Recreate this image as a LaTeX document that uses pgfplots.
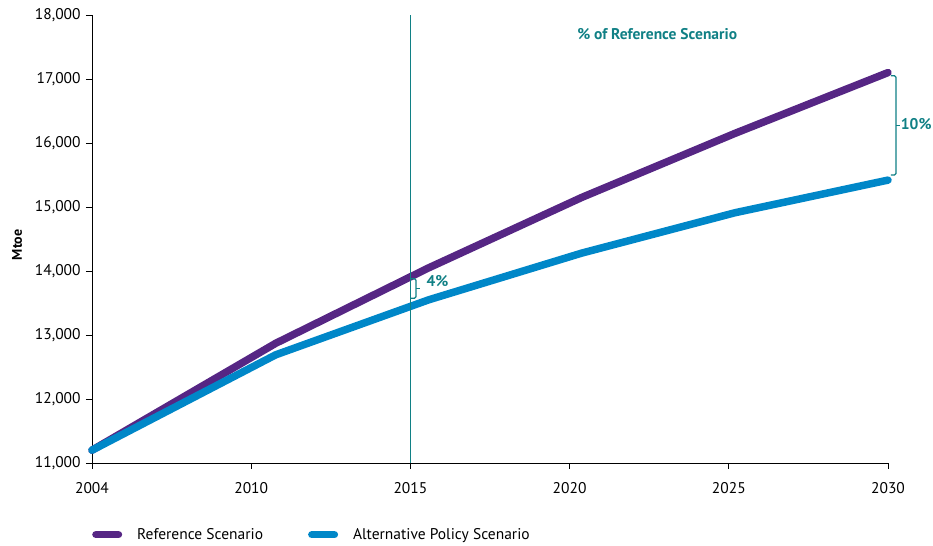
\documentclass[border=0pt]{standalone}
\usepackage{fontspec}
\setmainfont{PT Sans}
\usepackage{pgfplots}
\pgfplotsset{compat=1.18}
\definecolor{refpurple}{RGB}{86,38,132}
\definecolor{altblue}{RGB}{0,135,200}
\definecolor{annteal}{RGB}{16,128,133}
\newcommand{\fs}{\fontsize{15.5}{18}\selectfont}
\begin{document}
\fs
\begin{tikzpicture}
\begin{axis}[
  at={(0,0)}, anchor=south west,
  scale only axis,
  width=796pt, height=448pt,
  xmin=0, xmax=5, ymin=11000, ymax=18000,
  axis lines=left,
  axis line style={-, line width=0.9pt},
  tick align=outside,
  major tick length=6pt,
  tick style={black, line width=0.9pt},
  xtick={0,1,2,3,4,5},
  xticklabels={2004,2010,2015,2020,2025,2030},
  ytick={11000,12000,13000,14000,15000,16000,17000,18000},
  scaled y ticks=false,
  /pgf/number format/.cd, 1000 sep={,}, assume math mode=true,
  /pgfplots/.cd,
  ticklabel style={font=\fs, black},
  xticklabel style={yshift=-8pt},
  ylabel={Mtoe},
  every axis y label/.style={at={(axis description cs:-0.094,0.487)}, rotate=90, anchor=center, font=\fontsize{14}{16}\selectfont\bfseries},
  clip=false,
  legend columns=2,
  legend style={draw=none, fill=none, at={(axis description cs:0,-0.16)}, anchor=west, inner xsep=0pt, font=\fs},
  legend cell align=left,
  /tikz/every even column/.append style={column sep=43pt},
  legend image code/.code={\draw[#1, line width=7.5pt, line cap=round] (3.75pt,0pt) -- (26.25pt,0pt); \path[draw=none, fill=none] (0pt,0pt) -- (43pt,0pt);},
]
\addplot[refpurple, line width=7.5pt, line cap=round, line join=round] coordinates {
  (0,11200) (1.1538,12870) (2.1154,14050) (3.0769,15150) (4.0385,16150) (5,17100)};
\addlegendentry{Reference Scenario}
\addplot[altblue, line width=7.5pt, line cap=round, line join=round] coordinates {
  (0,11200) (1.1538,12690) (2.1154,13550) (3.0769,14280) (4.0385,14910) (5,15420)};
\addlegendentry{Alternative Policy Scenario}
\addplot[annteal, line width=1.6pt, forget plot] coordinates {(2,11000) (2,18000)};
% 4% bracket
\draw[annteal, line width=1.2pt, rounded corners=1.5pt] ([xshift=-5pt]axis cs:2.035,13880) -- (axis cs:2.035,13880) -- (axis cs:2.035,13575) -- ([xshift=-5pt]axis cs:2.035,13575);
\draw[annteal, line width=1.2pt] (axis cs:2.035,13727) -- ([xshift=4pt]axis cs:2.035,13727);
\node[annteal, font=\fs\bfseries] at (axis cs:2.17,13844) {4\%};
% 10% bracket
\draw[annteal, line width=1.2pt, rounded corners=1.5pt] ([xshift=-5pt]axis cs:5.05,17050) -- (axis cs:5.05,17050) -- (axis cs:5.05,15500) -- ([xshift=-5pt]axis cs:5.05,15500);
\draw[annteal, line width=1.2pt] (axis cs:5.05,16275) -- ([xshift=4pt]axis cs:5.05,16275);
\node[annteal, font=\fs\bfseries, anchor=west, inner xsep=0pt] at (axis cs:5.08,16297) {10\%};
\node[annteal, font=\fs\bfseries] at (axis cs:3.55,17703) {\% of Reference Scenario};
\end{axis}
\useasboundingbox (-92pt,-82pt) rectangle (841pt,463pt);
\end{tikzpicture}
\end{document}
